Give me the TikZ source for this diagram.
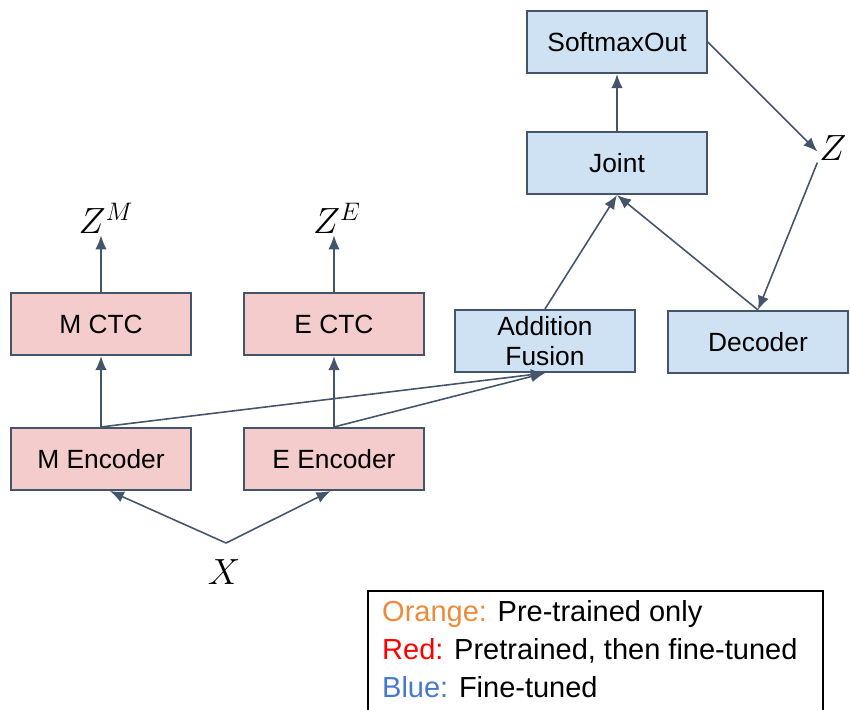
\documentclass[tikz,border=0pt]{standalone}
\usepackage{fontspec}
\setmainfont{Liberation Sans}
\usetikzlibrary{arrows.meta}
\definecolor{edgecol}{RGB}{68,84,106}
\definecolor{redfill}{RGB}{244,204,204}
\definecolor{bluefill}{RGB}{207,226,243}
\definecolor{legorange}{RGB}{238,138,60}
\definecolor{legblue}{RGB}{70,120,205}
\tikzset{
  block/.style={draw=edgecol,line width=0.9pt,minimum width=3.6cm,minimum height=1.25cm,
    align=center,font=\fontsize{15}{17}\selectfont},
  redblock/.style={block,fill=redfill},
  blueblock/.style={block,fill=bluefill},
  flow/.style={draw=edgecol,line width=0.9pt,-{Latex[length=8pt,width=6.5pt]}},
  var/.style={inner sep=1pt,font=\fontsize{21}{24}\selectfont},
  legtext/.style={anchor=west,font=\fontsize{16.5}{19}\selectfont}
}
\begin{document}
\begin{tikzpicture}[x=0.02cm,y=-0.02cm]
    \useasboundingbox (0,0) rectangle (850,710);
    % blocks
    \node[blueblock] (soft) at (617,42) {SoftmaxOut};
    \node[blueblock] (joint) at (617,163) {Joint};
    \node[blueblock] (fus) at (545,341) {Addition\\Fusion};
    \node[blueblock] (dec) at (758,342) {Decoder};
    \node[redblock] (mctc) at (101,324) {M CTC};
    \node[redblock] (ectc) at (334,324) {E CTC};
    \node[redblock] (menc) at (101,459) {M Encoder};
    \node[redblock] (eenc) at (334,459) {E Encoder};
    % variables
    \node[var] (zl) at (833,148) {$Z$};
    \node[var] (zm) at (106,218) {$Z^M$};
    \node[var] (ze) at (337,218) {$Z^E$};
    \node[var] (xl) at (224,572) {$X$};
    \coordinate (xv) at (226,543);
    % connections
    \draw[flow] (joint) -- (soft);
    \draw[flow] (soft.east) -- ([yshift=-2pt]zl.west);
    \draw[flow] (zl.south west) -- (dec.north);
    \draw[flow] (fus.north) -- (joint.south);
    \draw[flow] (dec.north) -- (joint.south);
    \draw[flow] (menc.north) -- (fus.south);
    \draw[flow] (eenc.north) -- (fus.south);
    \draw[flow] (menc) -- (mctc);
    \draw[flow] (eenc) -- (ectc);
    \draw[flow] (mctc.north) -- (mctc.north |- zm.south);
    \draw[flow] (ectc.north) -- (ectc.north |- ze.south);
    \draw[flow] (xv) -- ([xshift=5pt]menc.south);
    \draw[flow] (xv) -- ([xshift=-2pt]eenc.south);
    % legend
    \draw[black,line width=0.9pt] (368,715) -- (368,591) -- (823,591) -- (823,715);
    \node[legtext] (leg1) at (376,614) {\textcolor{legorange}{Orange:} Pre-trained only};
    \node[legtext] (leg2) at (376,651) {\textcolor{red}{Red:} Pretrained, then fine-tuned};
    \node[legtext] (leg3) at (376,687) {\textcolor{legblue}{Blue:} Fine-tuned};
\end{tikzpicture}
\end{document}
